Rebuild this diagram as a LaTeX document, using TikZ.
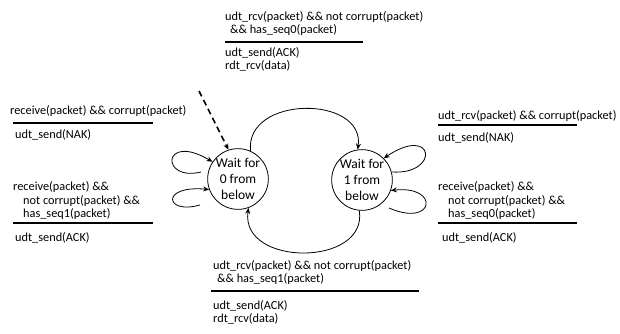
\documentclass[tikz,border=0pt]{standalone}
\usepackage{fontspec}
\setmainfont{Carlito}
\usepackage{tikz}
\usetikzlibrary{arrows.meta, positioning}
\tikzstyle{state} = [
    circle,
    draw=black,
    line width=0.8pt,
    minimum size=57pt,
    inner sep=0pt,
    align=center,
    font=\fontsize{13.5}{16}\selectfont
]
\tikzstyle{guard} = [align=left, inner xsep=0pt, inner ysep=3pt, anchor=south west]
\tikzstyle{action} = [align=left, inner sep=0pt, anchor=north west]
\tikzstyle{rulebar} = [line width=1.4pt]
\tikzstyle{trans} = [line width=0.8pt, -{Stealth[length=6pt, width=5pt]}]
\tikzstyle{startarrow} = [trans, line width=1.6pt, dash pattern=on 6pt off 4pt]

\begin{document}
\begin{tikzpicture}[x=1pt, y=-1pt, font=\fontsize{12.3}{13.5}\selectfont]
    \useasboundingbox (0,0) rectangle (620,334);
    % Zustände
    \node (s0) [state] at (238,179) {Wait for\\0 from\\below};
    \node (s1) [state] at (362,180) {Wait for\\1 from\\below};
    % Bedingungen und Aktionen
    \node (gtop) [guard, inner ysep=6pt] at (225,42) {udt\_rcv(packet) \&\& not corrupt(packet)\\\hspace*{5pt}\&\& has\_seq0(packet)};
    \draw [rulebar] (gtop.south west) -- +(138,0);
    \node (atop) [below=5pt of gtop.south west, action] {udt\_send(ACK)\\rdt\_rcv(data)};
    \node (gbot) [guard, inner ysep=6pt] at (213,291) {udt\_rcv(packet) \&\& not corrupt(packet)\\\hspace*{4pt}\&\& has\_seq1(packet)};
    \draw [rulebar] ([xshift=-2pt]gbot.south west) -- +(208,0);
    \node (abot) [below=9pt of gbot.south west, action] {udt\_send(ACK)\\rdt\_rcv(data)};
    \node (gleft1) [guard, inner ysep=6pt] at (10,123) {receive(packet) \&\& corrupt(packet)};
    \draw [rulebar] ([xshift=3pt]gleft1.south west) -- +(140,0);
    \node (aleft1) [below=6pt of gleft1.south west, action, xshift=5pt] {udt\_send(NAK)};
    \node (gleft2) [guard] at (13,223) {receive(packet) \&\&\\\hspace*{10pt}not corrupt(packet) \&\&\\\hspace*{10pt}has\_seq1(packet)};
    \draw [rulebar] (gleft2.south west) -- +(140,0);
    \node (aleft2) [below=9pt of gleft2.south west, action, xshift=2pt] {udt\_send(ACK)};
    \node (gright1) [guard] at (438,125) {udt\_rcv(packet) \&\& corrupt(packet)};
    \draw [rulebar] (gright1.south west) -- +(139,0);
    \node (aright1) [below=7pt of gright1.south west, action] {udt\_send(NAK)};
    \node (gright2) [guard] at (438,223) {receive(packet) \&\&\\\hspace*{10pt}not corrupt(packet) \&\&\\\hspace*{10pt}has\_seq0(packet)};
    \draw [rulebar] (gright2.south west) -- +(139,0);
    \node (aright2) [below=9pt of gright2.south west, action, xshift=4pt] {udt\_send(ACK)};
    % freie Enden
    \coordinate (init) at (199,91);
    \coordinate (tl1) at (201,172);
    \coordinate (tl2) at (200,205);
    \coordinate (tr1) at (392,172);
    \coordinate (tr2) at (389,208);
    % Pfeile
    \draw [startarrow] (init) -- (s0.108);
    \draw [trans] (s0.66) .. controls (245,95) and (365,95) .. (s1.98);
    \draw [trans] (s1.265) .. controls (368,267) and (240,267) .. (s0.290);
    \draw [trans] (tl1) .. controls (160,182) and (162,132) .. (s0.146);
    \draw [trans] (tl2) .. controls (165,215) and (160,185) .. (s0.200);
    \draw [trans] (tr1) .. controls (440,175) and (435,124) .. (s1.45);
    \draw [trans] (tr2) .. controls (435,228) and (440,185) .. (s1.340);
\end{tikzpicture}
\end{document}
